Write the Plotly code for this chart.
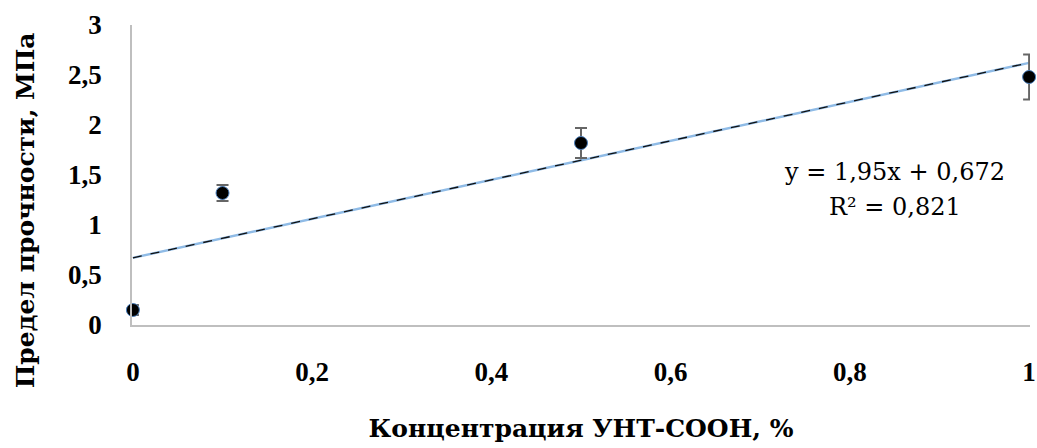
import plotly.graph_objects as go

conc = [0, 0.1, 0.5, 1.0]
strength = [0.15, 1.32, 1.82, 2.48]
err = [0.05, 0.08, 0.15, 0.225]
trend_slope = 1.95
trend_intercept = 0.672
r2 = 0.821
x_ticks = [0, 0.2, 0.4, 0.6, 0.8, 1.0]
x_ticktext = ["0", "0,2", "0,4", "0,6", "0,8", "1"]
y_ticks = [0, 0.5, 1, 1.5, 2, 2.5, 3]
y_ticktext = ["0", "0,5", "1", "1,5", "2", "2,5", "3"]
x_title = "Концентрация УНТ-COOH, %"
y_title = "Предел прочности, МПа"

trend_x = [0, 1]
trend_y = [trend_slope * v + trend_intercept for v in trend_x]

fig = go.Figure()
fig.add_trace(go.Scatter(x=trend_x, y=trend_y, mode="lines",
                         line=dict(color="#8fbbe6", width=2.4), hoverinfo="skip", showlegend=False))
fig.add_trace(go.Scatter(x=trend_x, y=trend_y, mode="lines",
                         line=dict(color="#111111", width=1.3, dash="dash"), hoverinfo="skip", showlegend=False))
fig.add_trace(go.Scatter(
    x=conc, y=strength, mode="markers",
    marker=dict(color="black", size=13, line=dict(color="#4a7ebb", width=1)),
    error_y=dict(type="data", array=err, visible=True, color="#666666", thickness=2, width=6),
    showlegend=False, cliponaxis=False))

times = "Liberation Serif, Times New Roman, serif"
wide = "DejaVu Serif, serif"
slope_txt = str(trend_slope).replace(".", ",")
icpt_txt = str(trend_intercept).replace(".", ",")
fig.add_annotation(x=0.85, y=1.53, xref="x", yref="y",
                   text=f"y = {slope_txt}x + {icpt_txt}", showarrow=False,
                   font=dict(family=wide, size=24, color="black"))
fig.add_annotation(x=0.85, y=1.18, xref="x", yref="y",
                   text=f"R² = {str(r2).replace('.', ',')}", showarrow=False,
                   font=dict(family=wide, size=24, color="black"))
fig.add_annotation(x=-0.119, y=0.383, xref="paper", yref="paper", textangle=-90,
                   xanchor="center", yanchor="middle",
                   text=f"<b>{y_title}</b>", showarrow=False,
                   font=dict(family=wide, size=25, color="black"))

fig.update_layout(
    width=1037, height=448,
    margin=dict(l=132, r=7, t=25, b=123),
    paper_bgcolor="white", plot_bgcolor="white",
    separators=", ",
    font=dict(family=times, color="black"),
    xaxis=dict(range=[-0.001, 1.001], tickvals=x_ticks, ticktext=x_ticktext, automargin=False,
               showgrid=False, zeroline=False, showline=True, linecolor="#bfbfbf", linewidth=1.5,
               ticks="", ticklabelstandoff=22,
               tickfont=dict(family=times, size=27, color="black", weight="bold"),
               title=dict(text=f"<b>{x_title}</b>", standoff=33,
                          font=dict(family=wide, size=25, color="black"))),
    yaxis=dict(range=[0, 3], tickvals=y_ticks, ticktext=y_ticktext, automargin=False,
               showgrid=False, zeroline=False, showline=True, linecolor="#bfbfbf", linewidth=1.5,
               ticks="", ticklabelstandoff=23,
               tickfont=dict(family=times, size=27, color="black", weight="bold")),
)
fig.write_html("out.html", config={"displayModeBar": False},
               post_script="document.body.style.margin='0';")
